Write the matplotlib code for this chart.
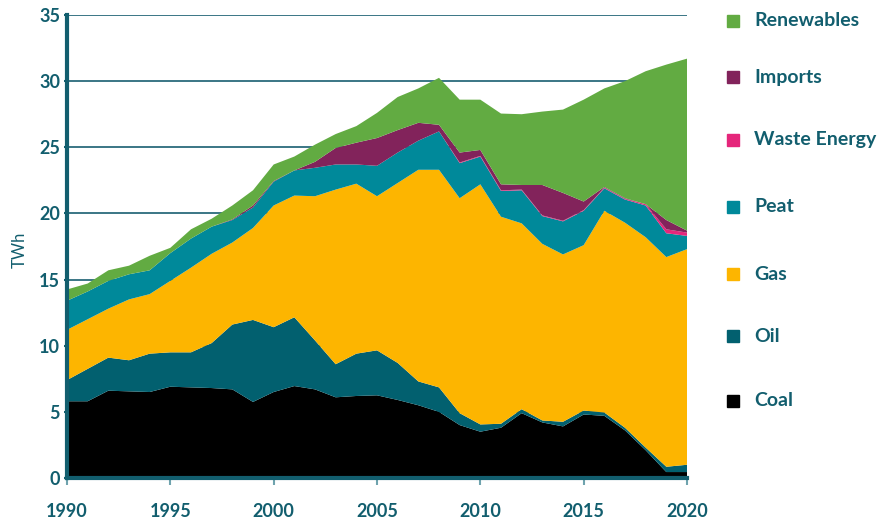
import matplotlib
matplotlib.use("Agg")
import matplotlib.pyplot as plt
from matplotlib.patches import Rectangle

years = list(range(1990, 2021))
coal = [5.8, 5.8, 6.6, 6.55, 6.5, 6.9, 6.85, 6.8, 6.7, 5.75, 6.5, 6.95, 6.7, 6.1, 6.2, 6.25,
        5.9, 5.5, 5.0, 4.0, 3.5, 3.8, 4.9, 4.2, 3.9, 4.8, 4.7, 3.6, 2.1, 0.45, 0.45]
oil = [1.6, 2.45, 2.5, 2.35, 2.9, 2.6, 2.65, 3.4, 4.9, 6.2, 4.9, 5.2, 3.7, 2.5, 3.2, 3.4,
       2.8, 1.8, 1.85, 0.9, 0.55, 0.3, 0.3, 0.15, 0.35, 0.3, 0.25, 0.2, 0.2, 0.4, 0.55]
gas = [3.8, 3.75, 3.7, 4.6, 4.5, 5.4, 6.4, 6.75, 6.2, 6.95, 9.2, 9.2, 10.9, 13.2, 12.85, 11.65,
       13.6, 16.0, 16.45, 16.25, 18.15, 15.65, 14.05, 13.35, 12.65, 12.5, 15.25, 15.5, 15.9, 15.85, 16.3]
peat = [2.2, 2.1, 2.1, 1.9, 1.8, 2.1, 2.2, 2.05, 1.7, 1.55, 1.8, 1.9, 2.15, 1.9, 1.45, 2.3,
        2.3, 2.2, 2.9, 2.65, 2.1, 1.95, 2.5, 2.1, 2.5, 2.6, 1.7, 1.75, 2.4, 1.8, 1.0]
waste = [0, 0, 0, 0, 0, 0, 0, 0, 0, 0, 0, 0, 0, 0, 0, 0,
         0, 0, 0, 0.05, 0.05, 0.05, 0.05, 0.05, 0.05, 0.05, 0.05, 0.05, 0.1, 0.3, 0.25]
imports = [0, 0, 0, 0, 0, 0, 0, 0, 0.05, 0.15, 0.05, 0, 0.45, 1.25, 1.65, 2.1,
           1.7, 1.35, 0.5, 0.75, 0.45, 0.45, 0.35, 2.3, 2.1, 0.65, 0.05, 0.05, 0, 0.7, 0.15]
renewables = [0.85, 0.6, 0.8, 0.65, 1.1, 0.4, 0.7, 0.6, 1.05, 1.15, 1.25, 1.05, 1.3, 1.05, 1.25, 1.9,
              2.5, 2.6, 3.55, 4.0, 3.8, 5.35, 5.35, 5.55, 6.3, 7.7, 7.45, 8.85, 10.05, 11.75, 13.0]

labels = ["Coal", "Oil", "Gas", "Peat", "Waste Energy", "Imports", "Renewables"]
colors = ["#000000", "#02606f", "#fdb500", "#00899a", "#e5267b", "#82235b", "#62ab42"]

TEAL = "#125e6e"
W, H = 883, 524
fig = plt.figure(figsize=(W / 100, H / 100), dpi=100)
ax = fig.add_axes([67 / W, 1 - 478 / H, (687 - 67) / W, (478 - 15) / H])

ax.stackplot(years, coal, oil, gas, peat, waste, imports, renewables,
             colors=colors, linewidth=0, zorder=2)

ax.set_xlim(1990, 2020)
ax.set_ylim(0, 35)
ax.set_yticks(range(0, 36, 5))
ax.set_xticks(range(1990, 2021, 5))
ax.set_axisbelow(True)
ax.yaxis.grid(True, color="#2b6b7c", linewidth=1.3, zorder=0)

for s in ["top", "right"]:
    ax.spines[s].set_visible(False)
for s in ["left", "bottom"]:
    ax.spines[s].set_color(TEAL)
    ax.spines[s].set_linewidth(3)
    ax.spines[s].set_zorder(3)

font = "Lato"
ax.tick_params(axis="y", length=2, width=1.5, color=TEAL, pad=3,
               labelcolor=TEAL, labelsize=13)
ax.tick_params(axis="x", length=5, width=1.5, color="#6fa3ae", pad=13,
               labelcolor=TEAL, labelsize=13)
for lab in ax.get_xticklabels() + ax.get_yticklabels():
    lab.set_fontfamily(font)
    lab.set_fontweight("bold")

fig.text(20 / W, 1 - 250 / H, "TWh", rotation=90, color=TEAL, fontsize=12,
         family=font, ha="center", va="center")

leg_y = [401, 336, 274, 207, 140, 77, 21]
for lab, col, yy in zip(labels, colors, leg_y):
    fig.patches.append(Rectangle((727 / W, 1 - (yy + 6) / H), 12 / W, 12 / H,
                                 transform=fig.transFigure, color=col, figure=fig))
    fig.text(754 / W, 1 - yy / H, lab, color=TEAL, fontsize=14, family=font,
             fontweight="bold", ha="left", va="center")

fig.savefig("out.png", dpi=100)
